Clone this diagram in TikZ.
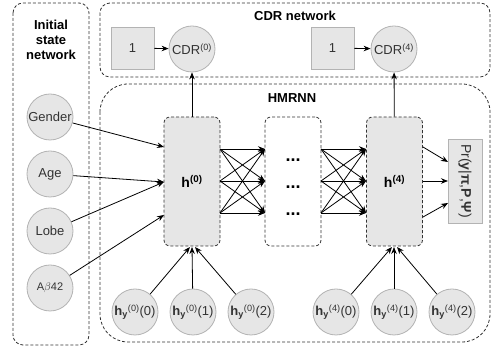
\documentclass[tikz,border=0pt]{standalone}
\usepackage{fontspec}
\setmainfont{Liberation Sans}
\usetikzlibrary{arrows.meta,calc}
\definecolor{gfill}{HTML}{E6E6E6}
\definecolor{gline}{HTML}{B3B3B3}
\definecolor{dline}{HTML}{333333}
\definecolor{tgray}{HTML}{333333}
\begin{document}
\begin{tikzpicture}[x=1pt,y=-1pt,
  font=\fontsize{13}{15}\selectfont,
  circ/.style={circle,draw=gline,fill=gfill,minimum size=46pt,inner sep=0pt,text=tgray,line width=0.8pt},
  sq/.style={rectangle,draw=gline,fill=gfill,minimum width=43pt,minimum height=42pt,inner sep=0pt,text=tgray,line width=0.8pt},
  dashbox/.style={draw=dline,dash pattern=on 3pt off 2pt,line width=0.8pt},
  hbox/.style={dashbox,rectangle,rounded corners=6pt,minimum width=56pt,minimum height=129pt,inner sep=0pt},
  arr/.style={-{Stealth[length=7pt,width=5.5pt]},line width=0.8pt,draw=black},
  dots/.style={inner sep=0pt,font=\fontsize{18}{18}\selectfont\bfseries},
  title/.style={font=\fontsize{13}{15}\selectfont\bfseries,align=center,inner sep=0pt}
]
\useasboundingbox (0,0) rectangle (491,352);
% group boxes
\draw[dashbox,rounded corners=10pt] (13,3) rectangle (89,345);
\draw[dashbox,rounded corners=10pt] (100,3) rectangle (490,77);
\draw[dashbox,rounded corners=28pt] (100,84) rectangle (490,342);
\node[title] (tinit) at (51,40) {Initial\\state\\network};
\node[title] (tcdr) at (295,16) {CDR network};
\node[title] (thm) at (292,98) {HMRNN};
% CDR network
\node[sq] (one0) at (132.5,48) {1};
\node[circ] (cdr0) at (192,49) {CDR\textsuperscript{(0)}};
\node[sq] (one4) at (332.5,48) {1};
\node[circ] (cdr4) at (394,49) {CDR\textsuperscript{(4)}};
\draw[arr] (one0) -- (cdr0);
\draw[arr] (one4) -- (cdr4);
% initial state
\node[circ] (gender) at (50,117) {Gender};
\node[circ] (age) at (50,174) {Age};
\node[circ] (lobe) at (50,231) {Lobe};
\node[circ] (abeta) at (50,288) {\fontsize{11}{13}\selectfont A$\beta$42};
% hidden boxes
\node[hbox,fill=gfill] (h0) at (192,181.5) {\fontsize{14}{16}\selectfont\textbf{h\textsuperscript{(0)}}};
\node[hbox,fill=white] (mid) at (293,181.5) {};
\node[hbox,fill=gfill] (h4) at (394.5,181.5) {\fontsize{14}{16}\selectfont\textbf{h\textsuperscript{(4)}}};
\node[dots] (d1) at (293,160) {...};
\node[dots] (d2) at (293,187) {...};
\node[dots] (d3) at (293,214) {...};
\draw[arr] (h0) -- (cdr0);
\draw[arr] (h4) -- (cdr4);
% inputs to h0
\coordinate (in1) at (164,147);
\coordinate (in2) at (164,182);
\coordinate (in3) at (164,215);
\draw[arr] (gender) -- (in1);
\draw[arr] (age) -- (in2);
\draw[arr] (lobe) -- (in2);
\draw[arr] (abeta) -- (in3);
% crossing arrows
\foreach \i/\y in {1/149,2/181,3/213}{
  \coordinate (a\i) at (220,\y);
  \coordinate (b\i) at (265,\y);
  \coordinate (c\i) at (321,\y);
  \coordinate (e\i) at (366,\y);
}
\foreach \i in {1,2,3}{
  \foreach \j in {1,2,3}{
    \draw[arr] (a\i) -- (b\j);
    \draw[arr] (c\i) -- (e\j);
  }
}
% output
\node[rectangle,draw=gline,fill=gfill,line width=0.8pt,rotate=-90,minimum width=84pt,minimum height=34pt,inner sep=0pt,text=tgray,font=\fontsize{14}{16}\selectfont] (pr) at (465,181) {Pr(\textbf{y}|\textbf{π},\textbf{P},\textbf{Ψ})};
\coordinate (o1) at (423,147);
\coordinate (o2) at (423,181);
\coordinate (o3) at (423,217);
\coordinate (p1) at (448,162);
\coordinate (p2) at (448,181);
\coordinate (p3) at (448,203);
\draw[arr] (o1) -- (p1);
\draw[arr] (o2) -- (p2);
\draw[arr] (o3) -- (p3);
% hy circles
\node[circ] (hy00) at (135,312) {\textbf{h}\textsubscript{\textbf{y}}\textsuperscript{(0)}(0)};
\node[circ] (hy01) at (193,312) {\textbf{h}\textsubscript{\textbf{y}}\textsuperscript{(0)}(1)};
\node[circ] (hy02) at (251,312) {\textbf{h}\textsubscript{\textbf{y}}\textsuperscript{(0)}(2)};
\node[circ] (hy40) at (336,312) {\textbf{h}\textsubscript{\textbf{y}}\textsuperscript{(4)}(0)};
\node[circ] (hy41) at (394,312) {\textbf{h}\textsubscript{\textbf{y}}\textsuperscript{(4)}(1)};
\node[circ] (hy42) at (452,312) {\textbf{h}\textsubscript{\textbf{y}}\textsuperscript{(4)}(2)};
\coordinate (s00) at (190,247);
\coordinate (s01) at (192,247);
\coordinate (s02) at (195,247);
\coordinate (s40) at (392,247);
\coordinate (s41) at (394,247);
\coordinate (s42) at (397,247);
\draw[arr] (hy00) -- (s00);
\draw[arr] (hy01) -- (s01);
\draw[arr] (hy02) -- (s02);
\draw[arr] (hy40) -- (s40);
\draw[arr] (hy41) -- (s41);
\draw[arr] (hy42) -- (s42);
\end{tikzpicture}
\end{document}
